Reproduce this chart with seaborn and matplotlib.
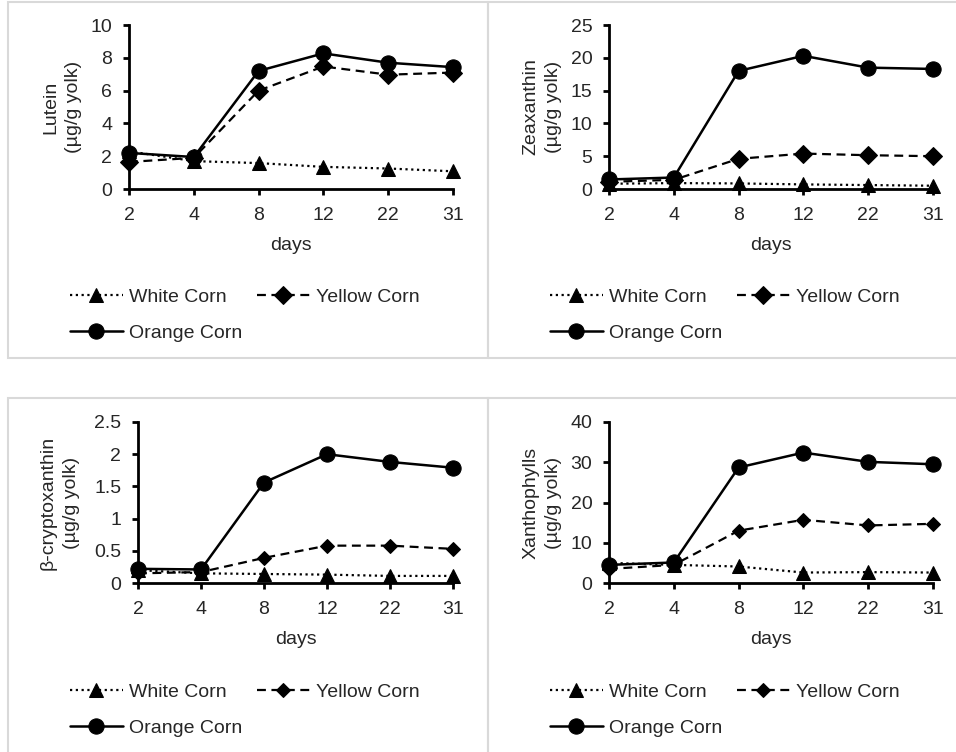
import numpy as np
import matplotlib
matplotlib.use("Agg")
import matplotlib.pyplot as plt
from matplotlib.patches import Rectangle
import seaborn as sns

# Data
days = ['2', '4', '8', '12', '22', '31']

lutein_white = [2.3, 1.7, 1.58, 1.35, 1.25, 1.08]
lutein_yellow = [1.65, 1.9, 6.0, 7.47, 6.97, 7.1]
lutein_orange = [2.2, 1.95, 7.2, 8.27, 7.7, 7.43]

zea_white = [0.8, 0.9, 0.85, 0.7, 0.6, 0.5]
zea_yellow = [1.1, 1.4, 4.6, 5.4, 5.15, 5.0]
zea_orange = [1.45, 1.75, 18.0, 20.3, 18.5, 18.3]

crypto_white = [0.2, 0.15, 0.14, 0.13, 0.11, 0.11]
crypto_yellow = [0.15, 0.17, 0.39, 0.58, 0.58, 0.53]
crypto_orange = [0.22, 0.21, 1.56, 2.0, 1.88, 1.79]

xan_white = [5.0, 4.5, 4.1, 2.6, 2.7, 2.6]
xan_yellow = [3.5, 4.5, 13.0, 15.7, 14.3, 14.7]
xan_orange = [4.5, 5.1, 28.7, 32.4, 30.1, 29.5]

sns.set_style("white")
plt.rcParams['font.family'] = ['Liberation Sans', 'DejaVu Sans']
FS = 14

fig = plt.figure(figsize=(9.56, 7.52), dpi=100)
W, H = 956, 752


def fx(px):
    return px / W


def fy(py):
    return 1 - py / H


# light grey chart-area borders
for (x0, y0, x1, y1) in [(8, 2, 488, 358), (488, 2, 962, 358), (8, 398, 488, 760), (488, 398, 962, 760)]:
    fig.patches.append(Rectangle((fx(x0), fy(y1)), fx(x1) - fx(x0), fy(y0) - fy(y1),
                                 transform=fig.transFigure, fill=False,
                                 edgecolor='#d9d9d9', linewidth=1.5))

panels = [
    # axes rect in px (left, top, right, bottom), data, ylim, yticks, ylabel, label x, diamond size, legend pos
    ((129, 25, 453, 189), (lutein_white, lutein_yellow, lutein_orange), 10, [0, 2, 4, 6, 8, 10],
     ['0', '2', '4', '6', '8', '10'], 'Lutein\n(µg/g yolk)', -0.145, 9, (70, 288)),
    ((609, 25, 933, 189), (zea_white, zea_yellow, zea_orange), 25, [0, 5, 10, 15, 20, 25],
     ['0', '5', '10', '15', '20', '25'], 'Zeaxanthin\n(µg/g yolk)', -0.145, 9, (550, 288)),
    ((138, 422, 453, 583), (crypto_white, crypto_yellow, crypto_orange), 2.5, [0, 0.5, 1, 1.5, 2, 2.5],
     ['0', '0.5', '1', '1.5', '2', '2.5'], 'β-cryptoxanthin\n(µg/g yolk)', -0.185, 7.5, (70, 683)),
    ((609, 422, 933, 583), (xan_white, xan_yellow, xan_orange), 40, [0, 10, 20, 30, 40],
     ['0', '10', '20', '30', '40'], 'Xanthophylls\n(µg/g yolk)', -0.145, 7.5, (550, 683)),
]

pos = np.arange(len(days))

for rect, data, ymax, yticks, ytl, ylabel, labx, dsize, legpos in panels:
    l, t, r, b = rect
    ax = fig.add_axes([fx(l), fy(b), fx(r) - fx(l), fy(t) - fy(b)])
    white, yellow, orange = data

    sns.lineplot(x=pos, y=white, ax=ax, color='black', linestyle=(0, (1, 1.6)), linewidth=1.6,
                 marker='^', markersize=10, markerfacecolor='black', markeredgecolor='black',
                 clip_on=False, label='White Corn')
    sns.lineplot(x=pos, y=yellow, ax=ax, color='black', linestyle=(0, (4, 2.5)), linewidth=1.6,
                 marker='D', markersize=dsize, markerfacecolor='black', markeredgecolor='black',
                 clip_on=False, label='Yellow Corn')
    sns.lineplot(x=pos, y=orange, ax=ax, color='black', linestyle='-', linewidth=1.8,
                 marker='o', markersize=11, markerfacecolor='black', markeredgecolor='black',
                 clip_on=False, label='Orange Corn')

    ax.set_xlim(0, len(days) - 1)
    ax.set_ylim(0, ymax)
    ax.set_xticks(pos)
    ax.set_xticklabels(days)
    ax.set_yticks(yticks)
    ax.set_yticklabels(ytl)
    for s in ['top', 'right']:
        ax.spines[s].set_visible(False)
    for s in ['left', 'bottom']:
        ax.spines[s].set_linewidth(2)
        ax.spines[s].set_color('black')
    ax.tick_params(axis='both', direction='out', length=4, width=2, color='black',
                   labelsize=FS, left=True, bottom=True)
    ax.tick_params(axis='y', pad=8)
    ax.tick_params(axis='x', pad=9)
    ax.set_xlabel('days', fontsize=FS)
    ax.xaxis.set_label_coords(0.5, -0.295 if t < 300 else -0.30)
    ax.set_ylabel(ylabel, fontsize=FS, linespacing=1.45)
    ax.yaxis.set_label_coords(labx, 0.5)

    handles, labels = ax.get_legend_handles_labels()
    order = [0, 2, 1]
    ax.legend([handles[i] for i in order], [labels[i] for i in order], ncol=2,
              loc='upper left', bbox_to_anchor=(fx(legpos[0]), fy(legpos[1])),
              bbox_transform=fig.transFigure, frameon=False, fontsize=FS,
              borderpad=0, borderaxespad=0, handlelength=2.7, handletextpad=0.35,
              columnspacing=0.75, labelspacing=0.95)

fig.savefig('out.png', dpi=100, facecolor='white')
